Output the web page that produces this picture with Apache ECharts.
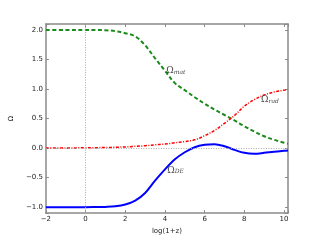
<!DOCTYPE html>
<html><head><meta charset="utf-8">
<script src="https://cdn.jsdelivr.net/npm/echarts@6/dist/echarts.min.js"></script>
<style>html,body{margin:0;padding:0;background:#fff}#c{width:320px;height:240px}</style>
</head><body><div id="c"></div>
<script>
const xs  = [-2, -1, 0, 0.5, 1, 1.5, 2, 2.5, 3, 3.5, 4, 4.5, 5, 5.5, 6, 6.5, 7, 7.5, 8, 8.5, 9, 9.5, 10, 10.2];
const mat = [2.0, 2.0, 2.0, 2.0, 1.995, 1.98, 1.945, 1.89, 1.74, 1.52, 1.31, 1.1, 0.98, 0.86, 0.75, 0.65, 0.56, 0.47, 0.37, 0.28, 0.2, 0.14, 0.09, 0.075];
const rad = [0.0, 0.002, 0.005, 0.007, 0.01, 0.014, 0.02, 0.03, 0.04, 0.055, 0.07, 0.09, 0.11, 0.14, 0.21, 0.3, 0.42, 0.55, 0.71, 0.82, 0.9, 0.95, 0.98, 0.99];
const de  = [-1.0, -1.0, -1.0, -0.998, -0.995, -0.985, -0.955, -0.89, -0.76, -0.55, -0.36, -0.19, -0.07, 0.015, 0.055, 0.065, 0.03, -0.03, -0.08, -0.095, -0.08, -0.06, -0.045, -0.04];
const xTicks = [-2, 0, 2, 4, 6, 8, 10];
const yTicks = [-1.0, -0.5, 0.0, 0.5, 1.0, 1.5, 2.0];
const labels = [
  {name: 'mat', pos: [4.04, 1.32]},
  {name: 'rad', pos: [8.82, 0.84]},
  {name: 'DE',  pos: [4.09, -0.36]}
];
const pair = ys => xs.map((x, i) => [x, ys[i]]);
const fmt = v => (v < 0 ? '\u2212' : '') + Math.abs(v);
const fmtY = v => (v < 0 ? '\u2212' : '') + Math.abs(v).toFixed(1);
const frame = {onZero: false, lineStyle: {color: '#8a8a8a', width: 1.5}};
const tick = {inside: true, length: 3, lineStyle: {color: '#8a8a8a', width: 1}};
const font = {fontFamily: 'DejaVu Sans', fontSize: 7, color: '#222'};
const chart = echarts.init(document.getElementById('c'), null, {renderer: 'canvas'});
const xBase = {type: 'value', min: -2, max: 10.2, interval: 2, splitLine: {show: false}, axisLine: frame, axisTick: tick};
const yBase = {type: 'value', min: -1.1, max: 2.1, splitNumber: 6, splitLine: {show: false}, axisLine: frame, axisTick: tick};
chart.setOption({
  animation: false,
  grid: {left: 40, right: 32, top: 24, bottom: 24},
  xAxis: [
    Object.assign({}, xBase, {position: 'bottom', name: 'log(1+z)', nameLocation: 'middle', nameGap: 14,
      nameTextStyle: font,
      axisLabel: Object.assign({margin: 3, formatter: v => xTicks.includes(v) ? fmt(v) : ''}, font)}),
    Object.assign({}, xBase, {position: 'top', axisLabel: {show: false}})
  ],
  yAxis: [
    Object.assign({}, yBase, {position: 'left', name: 'Ω', nameLocation: 'middle', nameGap: 26, nameRotate: 90,
      nameTextStyle: font,
      axisLabel: Object.assign({margin: 3, formatter: v => yTicks.some(t => Math.abs(t - v) < 1e-9) ? fmtY(v) : ''}, font)}),
    Object.assign({}, yBase, {position: 'right', axisLabel: {show: false}})
  ],
  series: [
    {type: 'line', data: pair(de), smooth: 0.35, showSymbol: false, symbol: 'none',
      lineStyle: {color: '#0000ff', width: 2}, z: 3,
      markLine: {silent: true, symbol: 'none', label: {show: false},
        lineStyle: {color: '#aaaaaa', type: [1, 1.5], width: 1},
        data: [{xAxis: 0}, {yAxis: 0}]}},
    {type: 'line', data: pair(mat), smooth: 0.35, showSymbol: false, symbol: 'none',
      lineStyle: {color: '#1a8c1a', width: 2, type: [4, 2.5]}, z: 4},
    {type: 'line', data: pair(rad), smooth: 0.35, showSymbol: false, symbol: 'none',
      lineStyle: {color: '#ff0000', width: 1.5, type: [3, 1.5, 1, 1.5]}, z: 4},
    {type: 'scatter', symbolSize: 1, silent: true, z: 5,
      itemStyle: {color: 'rgba(0,0,0,0)'},
      data: labels.map(l => ({value: l.pos, name: l.name})),
      label: {show: true, position: 'right', distance: 0,
        formatter: p => '{a|Ω}{b|' + p.name + '}',
        rich: {
          a: {fontFamily: 'DejaVu Serif', fontSize: 9, color: '#111', verticalAlign: 'bottom', lineHeight: 11},
          b: {fontFamily: 'DejaVu Serif', fontSize: 6, fontStyle: 'italic', color: '#111', verticalAlign: 'bottom', lineHeight: 8, padding: [3, 0, 0, 0]}
        }}}
  ]
});
</script></body></html>
